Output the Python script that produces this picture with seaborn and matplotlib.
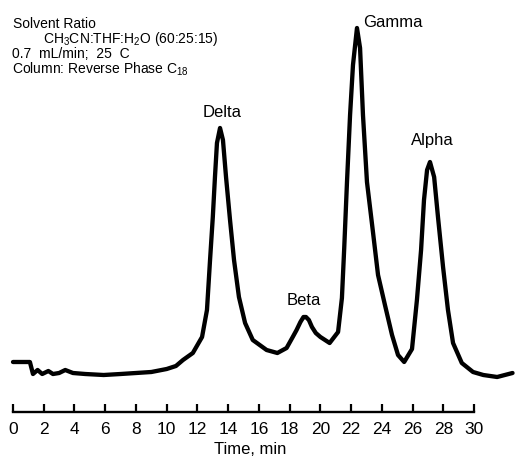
import pandas as pd
import matplotlib
matplotlib.use("Agg")
import matplotlib.pyplot as plt
import seaborn as sns

# detector trace (time in min, response in arbitrary units)
tiempo = [0.0, 1.1, 1.3, 1.6, 1.9, 2.3, 2.6, 3.0, 3.4, 3.9, 4.7, 5.9, 7.0, 8.0, 9.0,
          10.0, 10.6, 11.06, 11.7, 12.3, 12.62, 12.82, 13.0, 13.14, 13.27, 13.47,
          13.66, 13.86, 14.12, 14.38, 14.7, 15.1, 15.6, 16.5, 17.2, 17.8, 18.2,
          18.45, 18.7, 18.9, 19.06, 19.25, 19.45, 19.7, 20.0, 20.6, 21.15, 21.4,
          21.55, 21.73, 21.93, 22.12, 22.38, 22.58, 22.77, 23.03, 23.42, 23.75,
          24.2, 24.66, 25.05, 25.45, 25.96, 26.28, 26.55, 26.74, 26.94, 27.13,
          27.4, 27.65, 27.98, 28.3, 28.63, 29.2, 29.93, 30.6, 31.5, 32.5]
senal = [18, 18, 6, 10, 6, 9, 6, 7, 10, 7, 6, 5, 6, 7, 8,
         11, 14, 20, 27, 43, 70, 120, 163, 203, 237, 252,
         240, 203, 160, 120, 83, 57, 40, 30, 27, 32, 43,
         50, 58, 63, 63, 60, 53, 47, 43, 37, 48, 82,
         132, 198, 265, 315, 352, 332, 265, 198, 148, 105,
         75, 45, 25, 18, 31, 80, 130, 180, 210, 218,
         203, 163, 113, 70, 37, 17, 8, 5, 3, 7]

# peak names and where they are written
picos = ["Delta", "Beta", "Gamma", "Alpha"]
pico_t = [13.6, 18.93, 22.77, 27.26]
pico_y = [263, 75, 353, 235]
pico_ha = ["center", "center", "left", "center"]

marcas = list(range(0, 31, 2))

df = pd.DataFrame({"tiempo": tiempo, "senal": senal})

sns.set_style("white")
plt.rcParams["font.family"] = ["Liberation Sans", "DejaVu Sans"]
plt.rcParams["mathtext.default"] = "regular"
plt.rcParams["text.color"] = "black"
plt.rcParams["axes.labelcolor"] = "black"

fig = plt.figure(figsize=(5.15, 4.61), dpi=100)
ax = fig.add_axes([0, 49 / 461, 1, 412 / 461])

sns.lineplot(data=df, x="tiempo", y="senal", color="black", linewidth=3.1,
             ax=ax, solid_joinstyle="round", solid_capstyle="round")

ax.set_xlim(-13 / 15.37, 502 / 15.37)
ax.set_ylim(-32, 380)

for nombre, t, y, ha in zip(picos, pico_t, pico_y, pico_ha):
    ax.text(t, y, nombre, ha=ha, va="baseline", fontsize=12, color="black")

# spines / ticks
for lado in ["top", "right", "left"]:
    ax.spines[lado].set_visible(False)
ax.spines["bottom"].set_bounds(0, 30)
ax.spines["bottom"].set_linewidth(1.7)
ax.spines["bottom"].set_color("black")
ax.set_xticks(marcas)
ax.set_yticks([])
ax.tick_params(axis="x", direction="in", length=5.5, width=1.6, colors="black",
               labelsize=12.5, pad=7, bottom=True)
ax.set_ylabel("")
ax.set_xlabel("Time, min", fontsize=12)
ax.xaxis.set_label_coords(250 / 515, -0.072)

# condiciones del ensayo
notas = [("Solvent Ratio", 13, 28),
         ("CH$_3$CN:THF:H$_2$O (60:25:15)", 43, 43),
         ("0.7  mL/min;  25  C", 12, 58),
         ("Column: Reverse Phase C$_{18}$", 12, 74)]
for txt, px, py in notas:
    fig.text(px / 515, 1 - py / 461, txt, fontsize=10, va="baseline", ha="left")

fig.savefig("out.png", dpi=100)
